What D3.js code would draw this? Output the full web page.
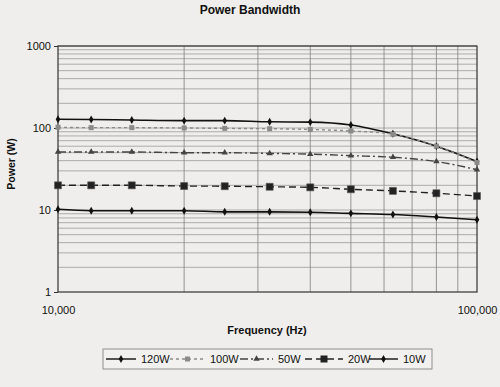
<!DOCTYPE html>
<html><head><meta charset="utf-8">
<script src="https://cdn.jsdelivr.net/npm/d3@7"></script>
<style>
html,body{margin:0;padding:0;background:#efeeec;}
svg{display:block;font-family:"Liberation Sans",Arial,sans-serif;}
</style></head>
<body>
<svg id="chart" width="500" height="387"></svg>
<script>
const frequencies = [10000, 12000, 15000, 20000, 25000, 32000, 40000, 50000, 63000, 80000, 100000];
const w120 = [128, 127, 125, 123, 123, 119, 118, 109, 85, 60, 39];
const w100 = [102, 101, 101, 100, 99, 98, 96, 92, 84, 60, 38];
const w50 = [51, 51, 51, 50, 50, 49, 48, 46, 44, 39, 31];
const w20 = [20, 20, 20, 19.6, 19.5, 19.2, 18.9, 17.9, 17.1, 16, 14.8];
const w10 = [10.2, 9.8, 9.8, 9.8, 9.5, 9.5, 9.4, 9.1, 8.8, 8.2, 7.6];
const seriesNames = ["120W", "100W", "50W", "20W", "10W"];
const yTickValues = [1, 10, 100, 1000];
const xTickValues = [10000, 100000];
const chartTitle = "Power Bandwidth";
const xTitle = "Frequency (Hz)";
const yTitle = "Power (W)";

const series = [
  {name: seriesNames[0], values: w120, color: "#111", dash: null, marker: "diamond", size: 4.5},
  {name: seriesNames[1], values: w100, color: "#8a8a8a", dash: "3,3", marker: "square", size: 5},
  {name: seriesNames[2], values: w50, color: "#444", dash: "8,3,2,3", marker: "triangle", size: 5},
  {name: seriesNames[3], values: w20, color: "#222", dash: "7,4", marker: "square", size: 7},
  {name: seriesNames[4], values: w10, color: "#111", dash: null, marker: "diamond", size: 4.5}
];

const svg = d3.select("#chart");
const pL = 58, pR = 477, pT = 46, pB = 292;
const x = d3.scaleLog().domain([10000, 100000]).range([pL, pR]);
const y = d3.scaleLog().domain([1, 1000]).range([pB, pT]);

svg.append("text").attr("x", 250).attr("y", 14).attr("text-anchor", "middle")
  .attr("font-size", 12).attr("font-weight", "bold").attr("fill", "#111").text(chartTitle);

const g = svg.append("g");
const yGrid = [];
for (let d = 1; d < 1000; d *= 10) for (let k = 1; k <= 9; k++) if (d * k > 1) yGrid.push(d * k);
yGrid.push(1000);
g.selectAll("line.hg").data(yGrid).join("line").attr("class", "hg")
  .attr("x1", pL).attr("x2", pR).attr("y1", d => y(d)).attr("y2", d => y(d))
  .attr("stroke", "#9a9a9a").attr("stroke-width", 0.8);
const xGrid = [];
for (let k = 2; k <= 9; k++) xGrid.push(10000 * k);
g.selectAll("line.vg").data(xGrid).join("line").attr("class", "vg")
  .attr("y1", pT).attr("y2", pB).attr("x1", d => x(d)).attr("x2", d => x(d))
  .attr("stroke", "#8a8a8a").attr("stroke-width", 0.9);

g.append("rect").attr("x", pL).attr("y", pT).attr("width", pR - pL).attr("height", pB - pT)
  .attr("fill", "none").attr("stroke", "#333").attr("stroke-width", 1.2);

const yAxis = d3.axisLeft(y).tickValues(yTickValues).tickFormat(d3.format("d")).tickSize(4).tickPadding(3);
const ya = svg.append("g").attr("transform", `translate(${pL},0)`).call(yAxis);
ya.select(".domain").remove();
ya.selectAll("text").attr("font-size", 11).attr("fill", "#111").attr("font-family", "Liberation Sans, Arial, sans-serif");
ya.selectAll("line").attr("stroke", "#333");

const xAxis = d3.axisBottom(x).tickValues(xTickValues).tickFormat(d3.format(",")).tickSize(0).tickPadding(14);
const xa = svg.append("g").attr("transform", `translate(0,${pB})`).call(xAxis);
xa.select(".domain").remove();
xa.selectAll("text").attr("font-size", 11).attr("fill", "#111").attr("font-family", "Liberation Sans, Arial, sans-serif");

svg.append("text").attr("x", 267).attr("y", 334).attr("text-anchor", "middle")
  .attr("font-size", 11).attr("font-weight", "bold").attr("fill", "#111").text(xTitle);
svg.append("text").attr("transform", "translate(15,164) rotate(-90)").attr("text-anchor", "middle")
  .attr("font-size", 10.5).attr("font-weight", "bold").attr("fill", "#111").text(yTitle);

function markerPath(type, s) {
  if (type === "diamond") return d3.symbol(d3.symbolDiamond, s * s * 0.9)();
  if (type === "triangle") return d3.symbol(d3.symbolTriangle, s * s * 0.7)();
  return d3.symbol(d3.symbolSquare, s * s)();
}

const line = d3.line().x(d => x(d[0])).y(d => y(d[1])).curve(d3.curveMonotoneX);
series.forEach(s => {
  const pts = frequencies.map((f, i) => [f, s.values[i]]);
  const sg = svg.append("g");
  sg.append("path").attr("d", line(pts)).attr("fill", "none").attr("stroke", s.color)
    .attr("stroke-width", s.name === "120W" || s.name === "10W" ? 1.6 : 1.4)
    .attr("stroke-dasharray", s.dash);
  sg.selectAll("path.m").data(pts).join("path").attr("class", "m")
    .attr("transform", d => `translate(${x(d[0])},${y(d[1])})`)
    .attr("d", markerPath(s.marker, s.size)).attr("fill", s.color)
    .attr("stroke", s.name === "20W" ? "#555" : "none").attr("stroke-width", 0.6);
});

const lg = svg.append("g");
lg.append("rect").attr("x", 103).attr("y", 349).attr("width", 329).attr("height", 20)
  .attr("fill", "#f2f1ef").attr("stroke", "#777").attr("stroke-width", 0.8);
const legendPos = [
  {lx: 106, tx: 141},
  {lx: 170, tx: 210},
  {lx: 240, tx: 278},
  {lx: 305, tx: 348},
  {lx: 369, tx: 403}
];
series.forEach((s, i) => {
  const p = legendPos[i];
  const lx2 = p.tx - 5;
  const cy = 359;
  lg.append("line").attr("x1", p.lx).attr("x2", lx2).attr("y1", cy).attr("y2", cy)
    .attr("stroke", s.color).attr("stroke-width", 1.4).attr("stroke-dasharray", s.dash);
  lg.append("path").attr("transform", `translate(${(p.lx + lx2) / 2},${cy})`)
    .attr("d", markerPath(s.marker, s.size)).attr("fill", s.color);
  lg.append("text").attr("x", p.tx).attr("y", cy + 4).attr("font-size", 11).attr("fill", "#111").text(s.name);
});
</script>
</body></html>
